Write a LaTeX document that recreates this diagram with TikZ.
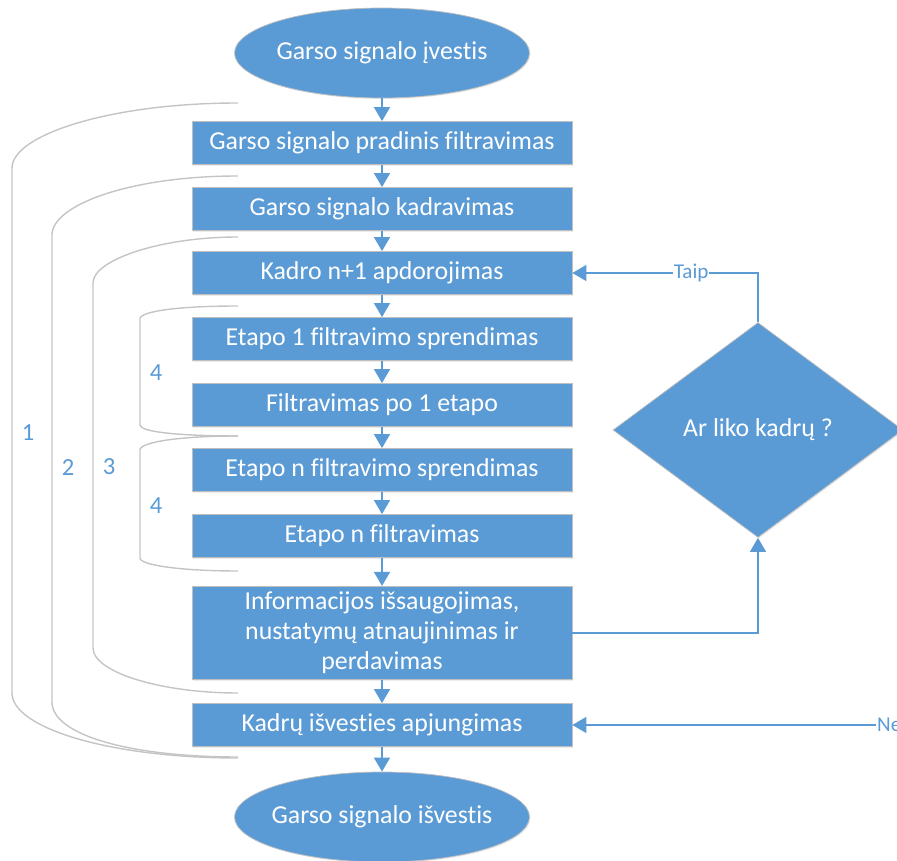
\documentclass[tikz,border=0pt]{standalone}
\usepackage{fontspec}
\setmainfont{Carlito}[Ligatures=NoCommon]
\usetikzlibrary{shapes.geometric,arrows.meta,shadows}
\definecolor{stage}{RGB}{91,155,213}
\definecolor{rim}{RGB}{191,191,191}
\definecolor{bracegray}{RGB}{196,196,196}
\tikzstyle{box}=[rectangle, draw=rim, fill=stage, text=white, minimum width=7.6cm, minimum height=0.86cm, font=\fontsize{14.7}{17}\selectfont, drop shadow={opacity=0.15,shadow xshift=0.6pt,shadow yshift=-0.6pt}]
\tikzset{term/.style={ellipse, draw=rim, fill=stage, text=white, minimum width=5.9cm, minimum height=1.8cm, inner xsep=-1cm, font=\fontsize{14.7}{17}\selectfont, drop shadow={opacity=0.15,shadow xshift=0.6pt,shadow yshift=-0.6pt}}}
\tikzset{flow/.style={-{Triangle[width=9pt,length=8pt]}, line width=1.2pt, color=stage}}
\tikzset{brace/.style={line width=0.8pt, color=bracegray}}
\tikzset{num/.style={text=stage, font=\fontsize{14}{16}\selectfont}}
\tikzset{answer/.style={text=stage, font=\fontsize{12}{14}\selectfont, inner sep=0.5pt}}

\begin{document}
\begin{tikzpicture}[x=0.02cm, y=-0.02cm]
  \useasboundingbox (0,0) rectangle (897,861);
  \draw (382,53) node[term] (S) {Garso signalo įvestis};
  \draw (382,143) node[box] (K1) {Garso signalo pradinis filtravimas};
  \draw (382,209) node[box] (K2) {Garso signalo kadravimas};
  \draw (382,273) node[box] (K3) {Kadro n+1 apdorojimas};
  \draw (382,339) node[box] (K4) {Etapo 1 filtravimo sprendimas};
  \draw (382,405) node[box] (K5) {Filtravimas po 1 etapo};
  \draw (382,470) node[box] (K6) {Etapo n filtravimo sprendimas};
  \draw (382,536) node[box] (K7) {Etapo n filtravimas};
  \draw (382,633) node[box,minimum height=1.82cm,align=center] (K8) {Informacijos išsaugojimas,\\nustatymų atnaujinimas ir\\perdavimas};
  \draw (382,725) node[box] (K9) {Kadrų išvesties apjungimas};
  \draw (382,817) node[term] (E) {Garso signalo išvestis};

  \draw (758,430) node[diamond, draw=rim, fill=stage, text=white, minimum width=5.8cm, minimum height=4.3cm, inner sep=0, font=\fontsize{14.7}{17}\selectfont, drop shadow={opacity=0.15,shadow xshift=0.6pt,shadow yshift=-0.6pt}] (D) {Ar liko kadrų ?};

  \draw[flow] (S) -- (K1);
  \draw[flow] (K1) -- (K2);
  \draw[flow] (K2) -- (K3);
  \draw[flow] (K3) -- (K4);
  \draw[flow] (K4) -- (K5);
  \draw[flow] (K5) -- (K6);
  \draw[flow] (K6) -- (K7);
  \draw[flow] (K7) -- (K8);
  \draw[flow] (K8) -- (K9);
  \draw[flow] (K9) -- (E);

  %% Loop back
  \draw[flow] (D.north) |- (K3.east) node[answer, pos=0.68, fill=white] (YES) {Taip};
  \draw[flow] (K8.east) -| (D.south);
  \draw (876,725) node[answer, anchor=west] (NO) {Ne};
  \draw[flow] (NO.west) -- (K9.east);

  %% Brackets
  \draw[brace] (238,103) .. controls (110,103) and (12,135) .. (12,168) -- (12,693) .. controls (12,728) and (110,758) .. (238,758);
  \draw[brace] (238,176) .. controls (130,176) and (52,205) .. (52,235) -- (52,702) .. controls (52,735) and (130,757) .. (238,757);
  \draw[brace] (238,237) .. controls (160,237) and (93,260) .. (93,283) -- (93,648) .. controls (93,672) and (160,693) .. (238,693);
  \draw[brace] (238,306) .. controls (180,306) and (140,311) .. (140,319) -- (140,425) .. controls (140,432) and (180,436) .. (238,436);
  \draw[brace] (238,436) .. controls (180,436) and (140,442) .. (140,450) -- (140,558) .. controls (140,565) and (180,571) .. (238,571);

  \draw (28,433) node[num] (N1) {1};
  \draw (68,468) node[num] (N2) {2};
  \draw (109,467) node[num] (N3) {3};
  \draw (156,373) node[num] (N4a) {4};
  \draw (156,506) node[num] (N4b) {4};
\end{tikzpicture}
\end{document}
